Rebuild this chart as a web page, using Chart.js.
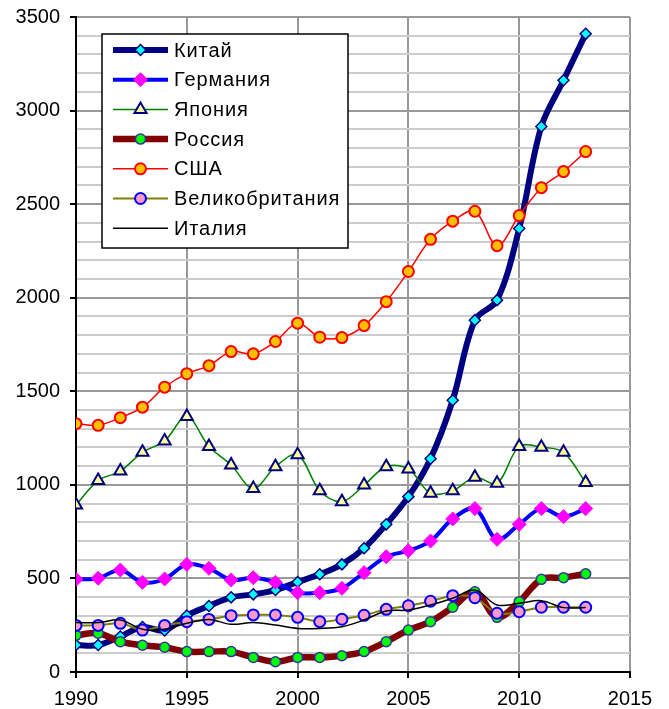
<!DOCTYPE html>
<html>
<head>
<meta charset="utf-8">
<style>
  html, body { margin: 0; padding: 0; background: #ffffff; }
  #wrap { width: 669px; height: 709px; }
</style>
<script src="https://cdn.jsdelivr.net/npm/chart.js@4/dist/chart.umd.min.js"></script>
</head>
<body>
<div id="wrap"><canvas id="c" width="669" height="709"></canvas></div>
<script>
// Years covered by every series
const years = [1990, 1991, 1992, 1993, 1994, 1995, 1996, 1997, 1998, 1999, 2000, 2001,
               2002, 2003, 2004, 2005, 2006, 2007, 2008, 2009, 2010, 2011, 2012, 2013];

const china   = [144, 144, 190, 240, 222, 302, 353, 399, 415, 438, 481, 522,
                 575, 661, 789, 937, 1140, 1452, 1880, 1987, 2370, 2915, 3162, 3410];
const germany = [495, 501, 545, 479, 497, 575, 554, 492, 504, 479, 424, 424,
                 447, 531, 616, 648, 700, 818, 873, 709, 789, 873, 830, 873];
const japan   = [893, 1023, 1074, 1174, 1235, 1365, 1205, 1106, 980, 1097, 1161, 969,
                 910, 999, 1097, 1085, 955, 969, 1040, 1008, 1205, 1201, 1174, 1012];
const russia  = [196, 207, 162, 143, 132, 109, 109, 109, 78, 55, 78, 78,
                 87, 109, 162, 224, 269, 346, 429, 292, 376, 495, 504, 525];
const usa     = [1327, 1318, 1359, 1415, 1522, 1594, 1637, 1712, 1700, 1766, 1864, 1789,
                 1787, 1851, 1979, 2140, 2312, 2409, 2462, 2278, 2439, 2588, 2674, 2781];
const uk      = [249, 249, 260, 224, 249, 269, 281, 301, 305, 305, 292, 269,
                 282, 303, 335, 354, 378, 408, 397, 314, 322, 346, 346, 346];
const italy   = [264, 264, 278, 228, 228, 260, 281, 255, 264, 251, 233, 233,
                 242, 278, 326, 331, 358, 394, 438, 358, 367, 381, 344, 344];

const seriesNames = ['Китай', 'Германия', 'Япония', 'Россия', 'США', 'Великобритания', 'Италия'];

const xTicks = [1990, 1995, 2000, 2005, 2010, 2015];
const yMajorStep = 500;

const FONT = '"Liberation Sans", Arial, sans-serif';

function pts(values) {
  return values.map((v, i) => ({ x: years[i], y: v }));
}

const styles = [
  { line: '#000080', width: 6,   shape: 'rectRot',  r: 5.5, fill: '#00FFFF', border: '#000080', bw: 1.5 },
  { line: '#0000FF', width: 4,   shape: 'rectRot',  r: 7,   fill: '#FF00FF', border: '#FF00FF', bw: 1 },
  { line: '#008000', width: 1.5, shape: 'triangle', r: 7,   fill: '#FFFF99', border: '#000080', bw: 2 },
  { line: '#800000', width: 6.5, shape: 'circle',   r: 5,   fill: '#00FF00', border: '#333399', bw: 1.5 },
  { line: '#FF0000', width: 1.5, shape: 'circle',   r: 5.5, fill: '#FFC000', border: '#FF0000', bw: 2 },
  { line: '#808000', width: 2,   shape: 'circle',   r: 5.5, fill: '#FF99CC', border: '#0000FF', bw: 2 },
  { line: '#000000', width: 1.5, shape: false,      r: 0,   fill: '#000000', border: '#000000', bw: 0 }
];

const seriesValues = [china, germany, japan, russia, usa, uk, italy];

const datasets = seriesValues.map((vals, i) => {
  const s = styles[i];
  return {
    label: seriesNames[i],
    data: pts(vals),
    borderColor: s.line,
    borderWidth: s.width,
    backgroundColor: s.fill,
    pointStyle: s.shape,
    pointRadius: s.r,
    pointBackgroundColor: s.fill,
    pointBorderColor: s.border,
    pointBorderWidth: s.bw,
    tension: 0.35,
    fill: false,
    // later series are painted over earlier ones
    order: seriesValues.length - i
  };
});

function drawMarker(ctx, s, x, y) {
  if (!s.shape) return;
  ctx.save();
  ctx.fillStyle = s.fill;
  ctx.strokeStyle = s.border;
  ctx.lineWidth = s.bw;
  ctx.beginPath();
  const r = s.r;
  if (s.shape === 'circle') {
    ctx.arc(x, y, r, 0, Math.PI * 2);
  } else if (s.shape === 'rectRot') {
    ctx.moveTo(x, y - r); ctx.lineTo(x + r, y); ctx.lineTo(x, y + r); ctx.lineTo(x - r, y);
  } else if (s.shape === 'triangle') {
    ctx.moveTo(x, y - r);
    ctx.lineTo(x + r * Math.sin(Math.PI / 3), y + r / 2);
    ctx.lineTo(x - r * Math.sin(Math.PI / 3), y + r / 2);
  }
  ctx.closePath();
  ctx.fill();
  if (s.bw > 0) ctx.stroke();
  ctx.restore();
}

// Boxed legend sitting inside the plot area, top-left
const boxedLegend = {
  id: 'boxedLegend',
  afterDraw(chart) {
    const ctx = chart.ctx;
    const left = 102, top = 34, w = 246, h = 214;
    ctx.save();
    ctx.fillStyle = '#ffffff';
    ctx.fillRect(left, top, w, h);
    ctx.strokeStyle = '#000000';
    ctx.lineWidth = 1.5;
    ctx.strokeRect(left, top, w, h);
    ctx.font = '20px ' + FONT;
    if ('letterSpacing' in ctx) ctx.letterSpacing = '0.9px';
    ctx.textBaseline = 'middle';
    ctx.textAlign = 'left';
    seriesNames.forEach((name, i) => {
      const s = styles[i];
      const y = 50 + i * 29.7;
      ctx.beginPath();
      ctx.strokeStyle = s.line;
      ctx.lineWidth = s.width;
      ctx.moveTo(113, y);
      ctx.lineTo(168, y);
      ctx.stroke();
      drawMarker(ctx, s, 140.5, y);
      ctx.fillStyle = '#000000';
      ctx.fillText(name, 174, y + 1);
    });
    ctx.restore();
  }
};

new Chart(document.getElementById('c'), {
  type: 'line',
  data: { datasets },
  plugins: [boxedLegend],
  options: {
    responsive: false,
    devicePixelRatio: 1,
    animation: false,
    layout: { padding: { left: 0, top: 17, right: 39, bottom: 0 } },
    plugins: {
      legend: { display: false },
      tooltip: { enabled: false }
    },
    scales: {
      x: {
        type: 'linear',
        min: xTicks[0],
        max: xTicks[xTicks.length - 1],
        afterBuildTicks(scale) { scale.ticks = xTicks.map(v => ({ value: v })); },
        afterFit(scale) { scale.height = 37; scale.paddingLeft = 0; scale.paddingRight = 0; },
        ticks: {
          color: '#000000',
          font: { family: FONT, size: 20 },
          padding: 9,
          maxRotation: 0,
          autoSkip: false,
          callback: v => String(v)
        },
        grid: {
          color: '#999999',
          lineWidth: 2,
          tickColor: '#000000',
          tickLength: 6,
          tickWidth: 2
        },
        border: { color: '#000000', width: 2 }
      },
      y: {
        min: 0,
        max: 3500,
        afterFit(scale) { scale.width = 76; scale.paddingTop = 0; scale.paddingBottom = 0; },
        ticks: {
          stepSize: 100,
          autoSkip: false,
          color: '#000000',
          font: { family: FONT, size: 20 },
          padding: 10,
          callback: v => (v % yMajorStep === 0 ? String(v) : '')
        },
        grid: {
          color: c => (c.tick && c.tick.value % yMajorStep === 0 ? '#999999' : '#cccccc'),
          lineWidth: 2,
          tickColor: c => (c.tick && c.tick.value % yMajorStep === 0 ? '#000000' : 'rgba(0,0,0,0)'),
          tickLength: 6,
          tickWidth: 2
        },
        border: { color: '#000000', width: 2 }
      }
    }
  }
});
</script>
</body>
</html>
